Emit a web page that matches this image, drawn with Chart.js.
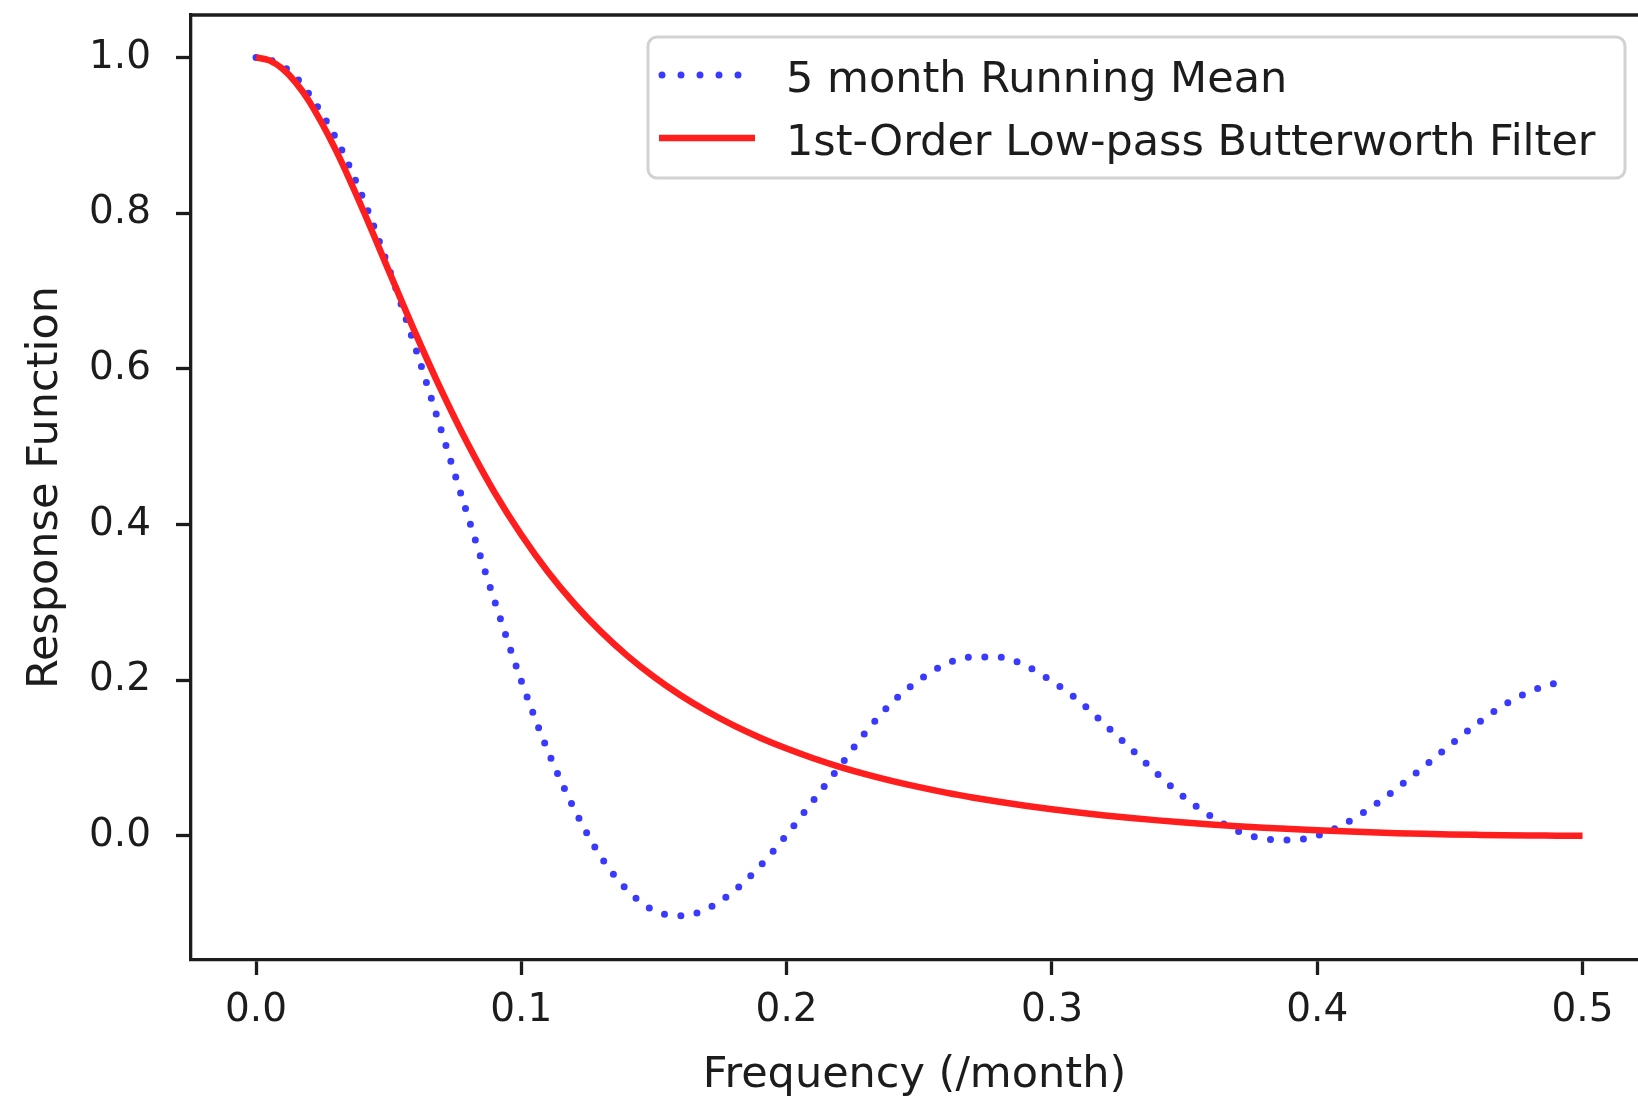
<!DOCTYPE html>
<html>
<head>
<meta charset="utf-8">
<title>Response Function</title>
<script src="https://cdn.jsdelivr.net/npm/chart.js@4.4.1/dist/chart.umd.min.js"></script>
<style>
  html, body { margin: 0; padding: 0; background: #fff; overflow: hidden; }
  #responseChart { display: block; }
</style>
</head>
<body>
<canvas id="responseChart" width="1638" height="1099"></canvas>
<script>
// frequency grid (/month) for the Butterworth curve, finer near zero
const freq = [0.00, 0.005, 0.01, 0.015, 0.02, 0.03, 0.04, 0.05, 0.06, 0.07, 0.08, 0.09,
              0.10, 0.11, 0.12, 0.13, 0.14, 0.15, 0.16, 0.17, 0.18, 0.19,
              0.20, 0.21, 0.22, 0.23, 0.24, 0.25, 0.26, 0.27, 0.28, 0.29,
              0.30, 0.31, 0.32, 0.33, 0.34, 0.35, 0.36, 0.37, 0.38, 0.39,
              0.40, 0.41, 0.42, 0.43, 0.44, 0.45, 0.46, 0.47, 0.48, 0.49, 0.50];

const butterworth = [1.0000, 0.9963, 0.9854, 0.9677, 0.9439, 0.8816, 0.8066, 0.7263, 0.6465, 0.5712, 0.5023, 0.4406,
                     0.3867, 0.3392, 0.2981, 0.2622, 0.2311, 0.2041, 0.1805, 0.1599, 0.1418, 0.1260,
                     0.1120, 0.0996, 0.0886, 0.0789, 0.0702, 0.0624, 0.0554, 0.0492, 0.0436, 0.0385,
                     0.0339, 0.0298, 0.0261, 0.0227, 0.0197, 0.0170, 0.0145, 0.0123, 0.0103, 0.0086,
                     0.0070, 0.0056, 0.0044, 0.0033, 0.0024, 0.0017, 0.0011, 0.0006, 0.0003, 0.0001, 0.0000];

// running mean is sampled on its own grid (stops a little short of 0.5)
const meanFreq = [0.00, 0.005, 0.01, 0.015, 0.02, 0.03, 0.04, 0.05, 0.06, 0.07, 0.08, 0.09,
                  0.10, 0.11, 0.12, 0.13, 0.14, 0.15, 0.16, 0.17, 0.18, 0.19,
                  0.20, 0.21, 0.22, 0.23, 0.24, 0.25, 0.26, 0.27, 0.28, 0.29,
                  0.30, 0.31, 0.32, 0.33, 0.34, 0.35, 0.36, 0.37, 0.38, 0.39,
                  0.40, 0.41, 0.42, 0.43, 0.44, 0.45, 0.46, 0.47, 0.48, 0.49, 0.495];

const runningMean = [1.000, 0.997, 0.989, 0.975, 0.953, 0.897, 0.822, 0.730, 0.628, 0.519, 0.409, 0.301,
                     0.199, 0.109, 0.034, -0.027, -0.070, -0.096, -0.103, -0.094, -0.0715, -0.039,
                     0.001, 0.045, 0.089, 0.134, 0.172, 0.200, 0.2205, 0.2297, 0.2295, 0.2186,
                     0.1986, 0.174, 0.1426, 0.111, 0.0785, 0.0491, 0.0248, 0.006, -0.004, -0.0056,
                     0.0002, 0.0149, 0.0355, 0.0609, 0.0882, 0.1163, 0.1433, 0.1673, 0.185, 0.1961, 0.1995];

const xTicks = [0.0, 0.1, 0.2, 0.3, 0.4, 0.5];
const yTicks = [0.0, 0.2, 0.4, 0.6, 0.8, 1.0];

const TEXT = '#1c1c1c';
Chart.defaults.font.family = "'DejaVu Sans', sans-serif";

// top spine (left/bottom come from the axis borders)
const frameLine = {
    id: 'frameLine',
    afterDraw(chart) {
        const { ctx, chartArea } = chart;
        ctx.save();
        ctx.strokeStyle = TEXT;
        ctx.lineWidth = 3.3;
        ctx.beginPath();
        ctx.moveTo(chartArea.left - 1.65, chartArea.top);
        ctx.lineTo(chartArea.right, chartArea.top);
        ctx.stroke();
        ctx.restore();
    }
};

// boxed legend in the upper right of the plot
const legendBox = {
    id: 'legendBox',
    afterDraw(chart) {
        const { ctx } = chart;
        const x = 648, y = 37, w = 977, h = 141;
        ctx.save();
        ctx.beginPath();
        ctx.roundRect(x, y, w, h, 9);
        ctx.fillStyle = 'rgba(255,255,255,0.8)';
        ctx.fill();
        ctx.strokeStyle = '#d2d2d2';
        ctx.lineWidth = 3;
        ctx.stroke();

        chart.data.datasets.forEach((ds, i) => {
            const rowY = 75 + i * 63;
            ctx.beginPath();
            ctx.strokeStyle = ds.borderColor;
            ctx.lineWidth = ds.borderWidth;
            ctx.lineCap = ds.borderCapStyle || 'butt';
            ctx.setLineDash(ds.borderDash ? [0, 19] : []);
            ctx.moveTo(ds.borderDash ? 662 : 659, rowY);
            ctx.lineTo(ds.borderDash ? 745 : 755, rowY);
            ctx.stroke();
            ctx.setLineDash([]);
            ctx.fillStyle = TEXT;
            ctx.font = "43px 'DejaVu Sans', sans-serif";
            ctx.textBaseline = 'alphabetic';
            ctx.fillText(ds.label, 786, rowY + 17);
        });
        ctx.restore();
    }
};

class ResponsePlot {
    constructor() {
        this.canvas = document.getElementById('responseChart');
        this.chart = new Chart(this.canvas, {
            type: 'line',
            data: {
                datasets: [
                    {
                        label: '5 month Running Mean',
                        data: meanFreq.map((f, i) => ({ x: f, y: runningMean[i] })),
                        borderColor: '#3a3aff',
                        borderWidth: 7,
                        borderDash: [0, 16.5],
                        borderCapStyle: 'round',
                        pointRadius: 0,
                        cubicInterpolationMode: 'monotone',
                        fill: false,
                        order: 1
                    },
                    {
                        label: '1st-Order Low-pass Butterworth Filter',
                        data: freq.map((f, i) => ({ x: f, y: butterworth[i] })),
                        borderColor: '#ff1e1e',
                        borderWidth: 6.5,
                        borderCapStyle: 'butt',
                        pointRadius: 0,
                        cubicInterpolationMode: 'monotone',
                        fill: false,
                        order: 0
                    }
                ]
            },
            options: this.getOptions(),
            plugins: [frameLine, legendBox]
        });
    }

    axis(min, max, ticks) {
        return {
            type: 'linear',
            min,
            max,
            afterBuildTicks: s => { s.ticks = ticks.map(value => ({ value })); },
            ticks: {
                callback: v => v.toFixed(1),
                font: { size: 39 },
                color: TEXT,
                autoSkip: false,
                maxRotation: 0
            },
            grid: {
                drawOnChartArea: false,
                tickLength: 15,
                tickWidth: 3.3,
                tickColor: TEXT
            },
            border: { color: TEXT, width: 3.3 }
        };
    }

    getOptions() {
        const x = this.axis(-0.0245, 0.5209, xTicks);
        // fixed axis band, no extra room reserved for edge labels
        x.afterFit = s => {
            s.height = 139;
            s.paddingLeft = 0;
            s.paddingRight = 0;
        };
        x.ticks.padding = 12;
        x.title = {
            display: true,
            text: 'Frequency (/month)',
            color: TEXT,
            font: { size: 43, lineHeight: 1 },
            padding: { top: 0, bottom: 1.5 }
        };

        const y = this.axis(-0.1597, 1.0546, yTicks);
        y.afterFit = s => {
            s.width = 191;
            s.paddingTop = 0;
            s.paddingBottom = 0;
        };
        y.ticks.padding = 25;
        y.title = {
            display: true,
            text: 'Response Function',
            color: TEXT,
            font: { size: 43, lineHeight: 1 },
            padding: { top: 24, bottom: 0 }
        };

        return {
            responsive: false,
            devicePixelRatio: 1,
            animation: false,
            layout: { padding: { top: 15, right: 0, bottom: 0, left: 0 } },
            plugins: {
                legend: { display: false },
                tooltip: { enabled: false }
            },
            scales: { x, y }
        };
    }
}

window.addEventListener('DOMContentLoaded', () => new ResponsePlot());
</script>
</body>
</html>
